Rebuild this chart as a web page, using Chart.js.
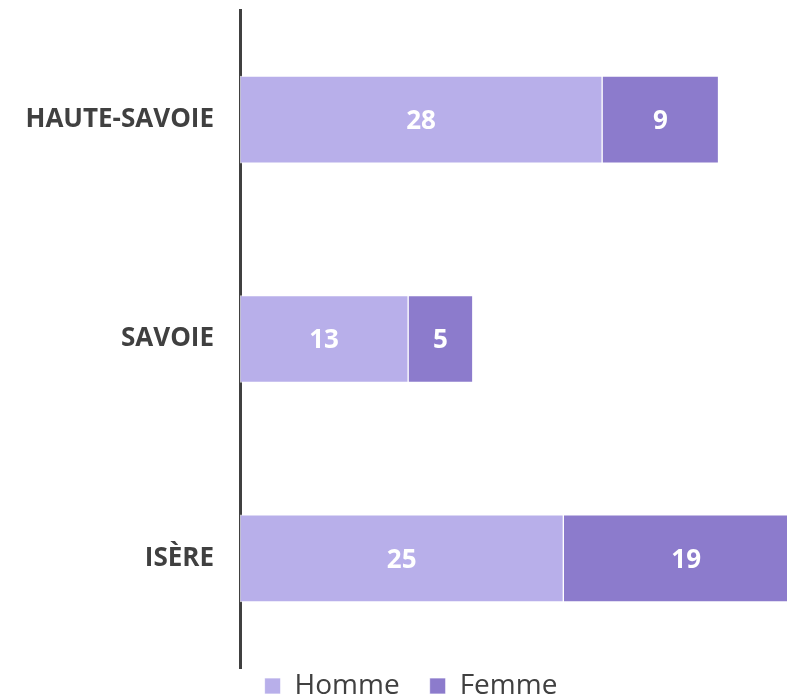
<!DOCTYPE html>
<html>
<head>
<meta charset="utf-8">
<script src="https://cdn.jsdelivr.net/npm/chart.js@4.4.1/dist/chart.umd.min.js"></script>
<style>
  html, body { margin: 0; padding: 0; background: #fff; }
  #wrap { width: 787px; height: 699px; overflow: hidden; position: relative; }
</style>
</head>
<body>
<div id="wrap">
  <canvas id="Effectifs" width="822" height="736"></canvas>
</div>
<script>
// data
var departements = ['HAUTE-SAVOIE', 'SAVOIE', 'ISÈRE'];
var hommes = [28, 13, 25];
var femmes = [9, 5, 19];

// draws the number in the middle of every bar piece
const valueLabels = {
    id: 'valueLabels',
    afterDatasetsDraw(chart) {
        const ctx = chart.ctx;
        ctx.save();
        ctx.font = 'bold 26px "Open Sans"';
        ctx.fillStyle = '#ffffff';
        ctx.textAlign = 'center';
        ctx.textBaseline = 'middle';
        chart.data.datasets.forEach((ds, di) => {
            chart.getDatasetMeta(di).data.forEach((bar, i) => {
                const p = bar.getCenterPoint();
                ctx.fillText(ds.data[i], p.x, p.y + 2);
            });
        });
        ctx.restore();
    }
};

// pull the legend a bit closer to the plot
const legendShift = {
    id: 'legendShift',
    afterLayout(chart) {
        chart.legend.top -= 26;
        chart.legend.bottom -= 26;
    }
};

const ctx = document.getElementById('Effectifs').getContext('2d');
const chart = new Chart(ctx, {
    type: 'bar',
    data: {
        labels: departements,
        datasets: [
            {
                label: 'Homme',
                data: hommes,
                backgroundColor: '#b8afea',
                borderColor: 'rgba(255,255,255,0.7)',
                borderWidth: 1,
                borderSkipped: false,
                barThickness: 87
            },
            {
                label: 'Femme',
                data: femmes,
                backgroundColor: '#8c7bcc',
                borderColor: 'rgba(255,255,255,0.7)',
                borderWidth: 1,
                borderSkipped: false,
                barThickness: 87
            }
        ]
    },
    options: {
        indexAxis: 'y',
        responsive: false,
        animation: false,
        layout: { padding: { top: 10, right: 0, left: 0, bottom: 0 } },
        scales: {
            x: {
                stacked: true,
                display: false,
                min: 0,
                max: 45
            },
            y: {
                stacked: true,
                grid: { display: false, drawTicks: false },
                border: { display: true, color: '#404040', width: 3 },
                ticks: {
                    color: '#404040',
                    font: { family: '"Open Sans"', size: 26, weight: 'bold' },
                    padding: 26
                },
                afterFit(scale) {
                    scale.width = 240;
                    scale.paddingTop = 0;
                    scale.paddingBottom = 0;
                }
            }
        },
        plugins: {
            legend: {
                position: 'bottom',
                labels: {
                    color: '#404040',
                    font: { family: '"Open Sans"', size: 28 },
                    boxWidth: 16,
                    boxHeight: 16,
                    padding: 30
                }
            },
            tooltip: { enabled: false }
        }
    },
    plugins: [valueLabels, legendShift]
});
</script>
</body>
</html>
